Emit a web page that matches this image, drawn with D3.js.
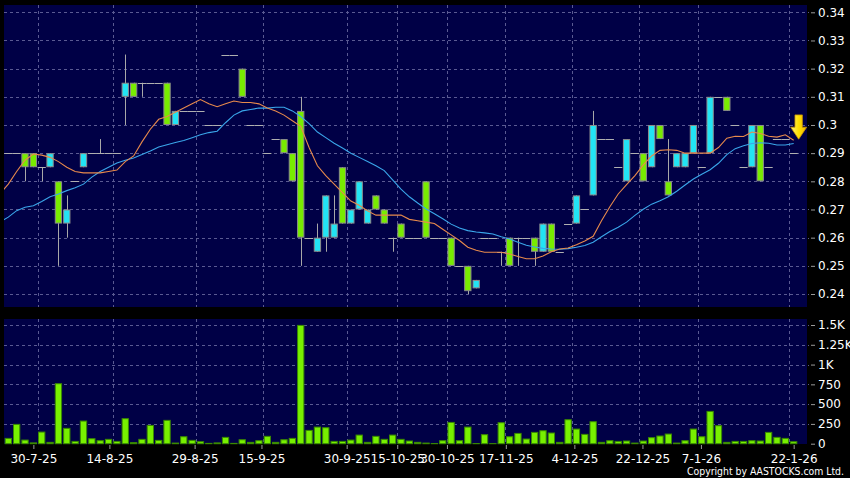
<!DOCTYPE html>
<html><head><meta charset="utf-8">
<script src="https://cdn.jsdelivr.net/npm/d3@7"></script>
<style>html,body{margin:0;padding:0;background:#000;overflow:hidden}svg{display:block}</style>
</head><body>
<svg id="chart" width="850" height="478"></svg>
<script>
// ---- data (one entry per trading session) ----
const open  = [.29,.29,.29,.29,.285,.285,.28,.265,.28,.285, .29,.29,.29,.29,.31,.315,.315,.315,.315,.315, .30,.305,.305,.305,.30,.30,.325,.325,.32,.30, .30,.29,.295,.295,.29,.305,.26,.255,.26,.26, .285,.265,.27,.265,.275,.27,.26,.265,.26,.26, .28,.26,.26,.26,.25,.25,.242,.26,.26,.255, .26,.26,.26,.26,.255,.265,.255,.265,.265,.27, .275,.295,.295,.285,.28,.29,.29,.285,.30,.28, .285,.285,.29,.285,.29,.31,.31,.30,.285,.285, .30,.285,.295,.295,.29];
const high  = [.29,.29,.29,.29,.285,.29,.28,.275,.28,.29, .29,.295,.29,.29,.325,.315,.315,.315,.315,.315, .305,.305,.305,.305,.30,.30,.325,.325,.32,.30, .30,.29,.295,.295,.29,.31,.26,.265,.275,.275, .285,.27,.28,.27,.275,.27,.26,.265,.26,.26, .28,.26,.26,.26,.25,.25,.245,.26,.26,.255, .26,.26,.26,.26,.265,.265,.255,.265,.275,.27, .305,.295,.295,.285,.295,.29,.29,.30,.30,.295, .29,.29,.30,.285,.31,.31,.31,.30,.285,.30, .30,.285,.295,.295,.29];
const low   = [.29,.29,.28,.285,.28,.285,.25,.26,.28,.285, .29,.29,.29,.29,.30,.31,.31,.315,.315,.30, .30,.305,.305,.305,.30,.30,.325,.325,.31,.30, .30,.29,.295,.29,.28,.25,.26,.255,.255,.26, .265,.265,.27,.265,.27,.265,.255,.26,.26,.26, .26,.26,.26,.25,.25,.24,.242,.26,.26,.25, .25,.25,.26,.25,.255,.255,.255,.265,.265,.27, .275,.295,.295,.285,.28,.29,.28,.285,.295,.275, .285,.285,.29,.285,.29,.31,.305,.30,.285,.285, .28,.285,.295,.295,.29];
const close = [.29,.29,.285,.285,.285,.29,.265,.27,.28,.29, .29,.29,.29,.29,.315,.31,.315,.315,.315,.30, .305,.305,.305,.305,.30,.30,.325,.325,.31,.30, .30,.29,.295,.29,.28,.26,.26,.26,.275,.265, .265,.27,.28,.27,.27,.265,.26,.26,.26,.26, .26,.26,.26,.25,.25,.241,.245,.26,.26,.255, .25,.26,.26,.255,.265,.255,.255,.265,.275,.27, .30,.295,.295,.285,.295,.29,.28,.30,.295,.275, .29,.29,.30,.285,.31,.31,.305,.30,.285,.30, .28,.285,.295,.295,.29];
const volume = [67,244,46,10,147,17,758,194,29,286, 63,38,55,29,316,13,55,231,42,295, 8,88,42,25,4,10,80,4,50,17, 38,93,17,50,67,1495,168,210,202,29, 29,46,109,17,93,55,109,55,34,17, 8,2,38,269,38,210,2,114,1,265, 88,130,59,143,164,135,17,303,185,118, 278,17,38,29,34,8,34,76,97,122, 8,38,185,88,408,227,17,29,29,38, 34,143,80,67,25];
// moving averages; first value belongs to the session before the window
const ma10 = [.2755,.279,.2835,.2875,.2897,.2893,.2885,.287,.285,.2835,.283, .283,.283,.2835,.284,.287,.289,.294,.2985,.302,.303, .3045,.306,.3075,.309,.3075,.3065,.3075,.3085,.308,.308, .3075,.306,.305,.3035,.3015,.2995,.292,.2855,.282,.279, .276,.273,.2715,.2695,.268,.268,.268,.268,.2665,.266, .2655,.265,.263,.261,.259,.2566,.2555,.2548,.2548,.2548, .2542,.2533,.2525,.2525,.2535,.255,.256,.2563,.2575,.2588, .2605,.266,.271,.2755,.2788,.282,.2858,.289,.291,.2912, .291,.290,.290,.290,.290,.292,.2953,.296,.2959,.2975, .297,.296,.2957,.2965,.2946];
const ma20 = [.2655,.2673,.2696,.2708,.2713,.2728,.2745,.2755,.2767,.2777,.279, .2815,.2835,.285,.2865,.2875,.2883,.2895,.2908,.2922,.293, .2938,.2945,.2955,.2965,.2973,.2978,.3008,.3035,.305,.3055, .306,.306,.3063,.3063,.305,.303,.3005,.2975,.2955,.2935, .2918,.290,.2885,.287,.2855,.2838,.2805,.2772,.2745,.2723, .2702,.2685,.2667,.2648,.2634,.2625,.262,.2617,.2613,.2603, .2595,.2584,.2573,.2567,.2562,.256,.2559,.2561,.2566,.2572, .2584,.2603,.2622,.2637,.2655,.2679,.2701,.2719,.2731,.2745, .2765,.2787,.2808,.2825,.2841,.2864,.2895,.2916,.2926,.2934, .2937,.2935,.2929,.2929,.2934];
const priceTicks = [0.24,0.25,0.26,0.27,0.28,0.29,0.30,0.31,0.32,0.33,0.34];
const priceTickLabels = ["0.24","0.25","0.26","0.27","0.28","0.29","0.3","0.31","0.32","0.33","0.34"];
const volTicks = [0,250,500,750,1000,1250,1500];
const volTickLabels = ["0","250","500","750","1K","1.25K","1.5K"];
const dateLabels = ["30-7-25","14-8-25","29-8-25","15-9-25","30-9-25","15-10-25","30-10-25","17-11-25","4-12-25","22-12-25","7-1-26","22-1-26"];
const dateLabelAt = [3,12.1,22.3,30.3,40.5,46.55,52.5,59.55,67.75,75.9,82.9,94];
const dateGridAt = [3.5,12.5,22.5,30.5,40.5,46.5,52.5,59.5,67.5,75.5,82.5,93.5];

// ---- layout ----
const W = 850, H = 478;
const plotL = 4, plotR = 807;
const priceTop = 5, priceBot = 307;
const volTop = 319, volBot = 444;
const NAVY = "#000046", GRID = "#5a5a92";
const UP = "#22e4f4", DOWN = "#78ec00";
const FONT = "'DejaVu Sans', Verdana, sans-serif";

const svg = d3.select("#chart");
svg.append("rect").attr("width", W).attr("height", H).attr("fill", "#000");

const n = close.length;
const x = d3.scaleLinear().domain([0, n - 1]).range([8.3, 8.3 + 8.355 * (n - 1)]);
const yP = d3.scaleLinear().domain([0.24, 0.34]).range([294, 12.3]);
const yV = d3.scaleLinear().domain([0, 1500]).range([443.7, 325]);
const bodyW = 7.3, dojiW = 8.2;

const defs = svg.append("defs");
defs.append("clipPath").attr("id", "clipP").append("rect")
  .attr("x", plotL).attr("y", priceTop).attr("width", plotR - plotL).attr("height", priceBot - priceTop);
const grad = defs.append("linearGradient").attr("id", "arrowG").attr("x1", 0).attr("x2", 1).attr("y1", 0).attr("y2", 0);
grad.append("stop").attr("offset", "0").attr("stop-color", "#fff27a");
grad.append("stop").attr("offset", "0.5").attr("stop-color", "#ffe000");
grad.append("stop").attr("offset", "1").attr("stop-color", "#f0b400");

// panels
svg.append("rect").attr("x", plotL).attr("y", priceTop).attr("width", plotR - plotL).attr("height", priceBot - priceTop).attr("fill", NAVY);
svg.append("rect").attr("x", plotL).attr("y", volTop).attr("width", plotR - plotL).attr("height", volBot - volTop).attr("fill", NAVY);

// price grid + right axis
const gP = svg.append("g");
gP.selectAll("line.h").data(priceTicks).join("line")
  .attr("x1", plotL).attr("x2", plotR + 2).attr("y1", d => Math.round(yP(d)) + 0.5).attr("y2", d => Math.round(yP(d)) + 0.5)
  .attr("stroke", GRID).attr("stroke-dasharray", "3,3");
gP.selectAll("line.v").data(dateGridAt).join("line")
  .attr("x1", d => Math.round(x(d)) + 0.5).attr("x2", d => Math.round(x(d)) + 0.5)
  .attr("y1", priceTop).attr("y2", priceBot)
  .attr("stroke", GRID).attr("stroke-dasharray", "3,3");
const axP = d3.axisRight(yP).tickValues(priceTicks).tickFormat((d, i) => priceTickLabels[i]).tickSize(4).tickPadding(3);
const gAxP = svg.append("g").attr("transform", `translate(${plotR + 4},0)`).call(axP);
gAxP.select(".domain").remove();
gAxP.selectAll("line").attr("stroke", "#9a9a9a");
gAxP.selectAll("text").attr("fill", "#fff").attr("font-family", FONT).attr("font-size", 12);

// volume grid + right axis
const gV = svg.append("g");
gV.selectAll("line.h").data(volTicks.slice(1)).join("line")
  .attr("x1", plotL).attr("x2", plotR + 2).attr("y1", d => Math.round(yV(d)) + 0.5).attr("y2", d => Math.round(yV(d)) + 0.5)
  .attr("stroke", GRID).attr("stroke-dasharray", "3,3");
gV.selectAll("line.v").data(dateGridAt).join("line")
  .attr("x1", d => Math.round(x(d)) + 0.5).attr("x2", d => Math.round(x(d)) + 0.5)
  .attr("y1", volTop).attr("y2", volBot)
  .attr("stroke", GRID).attr("stroke-dasharray", "3,3");
const axV = d3.axisRight(yV).tickValues(volTicks).tickFormat((d, i) => volTickLabels[i]).tickSize(4).tickPadding(3);
const gAxV = svg.append("g").attr("transform", `translate(${plotR + 4},0)`).call(axV);
gAxV.select(".domain").remove();
gAxV.selectAll("line").attr("stroke", "#9a9a9a");
gAxV.selectAll("text").attr("fill", "#fff").attr("font-family", FONT).attr("font-size", 12);

// date axis
const axX = d3.axisBottom(x).tickValues(dateLabelAt).tickFormat((d, i) => dateLabels[i]).tickSize(4).tickPadding(5);
const gAxX = svg.append("g").attr("transform", `translate(0,${volBot + 1})`).call(axX);
gAxX.select(".domain").remove();
gAxX.selectAll("line").attr("stroke", "#9a9a9a");
gAxX.selectAll("text").attr("fill", "#fff").attr("font-family", FONT).attr("font-size", 12);

// candles
const idx = d3.range(n);
const gC = svg.append("g").attr("clip-path", "url(#clipP)");
gC.selectAll("line.wick").data(idx.filter(i => high[i] > low[i])).join("line")
  .attr("x1", i => Math.round(x(i)) + 0.5).attr("x2", i => Math.round(x(i)) + 0.5)
  .attr("y1", i => yP(high[i])).attr("y2", i => yP(low[i]))
  .attr("stroke", "#a8a8a8");
gC.selectAll("line.doji").data(idx.filter(i => open[i] === close[i])).join("line")
  .attr("x1", i => x(i) - dojiW / 2).attr("x2", i => x(i) + dojiW / 2)
  .attr("y1", i => Math.round(yP(close[i])) + 0.5).attr("y2", i => Math.round(yP(close[i])) + 0.5)
  .attr("stroke", "#b0b0b0");
gC.selectAll("rect.body").data(idx.filter(i => open[i] !== close[i])).join("rect")
  .attr("x", i => x(i) - bodyW / 2 + 0.5).attr("width", bodyW - 1)
  .attr("y", i => yP(Math.max(open[i], close[i])) + 0.5)
  .attr("height", i => Math.abs(yP(open[i]) - yP(close[i])) - 1)
  .attr("fill", i => close[i] > open[i] ? UP : DOWN)
  .attr("stroke", "#8c8c8c").attr("stroke-width", 1);

// moving averages (index -1 .. n-1)
const maLine = d3.line().x((d, i) => x(i - 1)).y(d => yP(d));
gC.append("path").datum(ma20).attr("d", maLine).attr("fill", "none").attr("stroke", "#3aa6ea").attr("stroke-width", 1.1);
gC.append("path").datum(ma10).attr("d", maLine).attr("fill", "none").attr("stroke", "#e88a4c").attr("stroke-width", 1.1);

// latest-session marker
const tipX = x(n - 1) + 5, tipY = yP(ma10[ma10.length - 1]) - 1;
svg.append("path")
  .attr("d", `M${tipX},${tipY} l-8,-12 l4.3,0 l0,-12.3 l7.4,0 l0,12.3 l4.3,0 z`)
  .attr("fill", "url(#arrowG)").attr("stroke", "#c89000").attr("stroke-width", 0.8);

// volume bars
svg.append("g").selectAll("rect").data(idx).join("rect")
  .attr("x", i => x(i) - bodyW / 2 + 0.5).attr("width", bodyW - 1)
  .attr("y", i => yV(volume[i])).attr("height", i => Math.max(0, yV(0) - yV(volume[i])))
  .attr("fill", "#78f000").attr("stroke", "#3a8a00").attr("stroke-width", 1);

// copyright
svg.append("text").attr("x", 844).attr("y", 475).attr("text-anchor", "end")
  .attr("fill", "#fff").attr("font-family", FONT).attr("font-size", 11)
  .attr("textLength", 157).attr("lengthAdjust", "spacingAndGlyphs")
  .text("Copyright by AASTOCKS.com Ltd.");
</script>
</body></html>
